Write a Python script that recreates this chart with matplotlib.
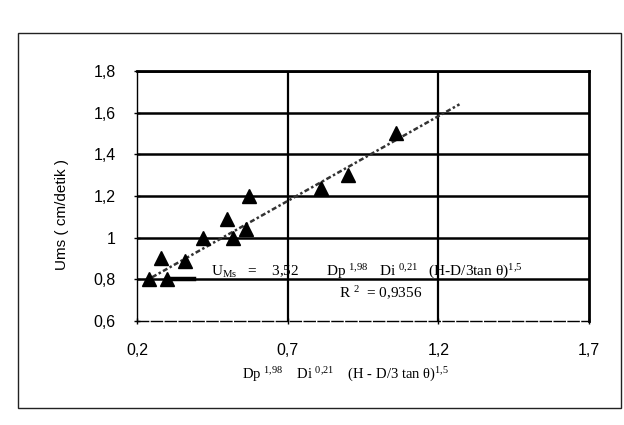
import numpy as np
import matplotlib.pyplot as plt
from matplotlib.patches import Rectangle

plt.rcParams['mathtext.fontset'] = 'custom'
plt.rcParams['mathtext.rm'] = 'Liberation Serif'
plt.rcParams['mathtext.it'] = 'Liberation Serif'

# data
x_val = [0.24, 0.30, 0.28, 0.36, 0.42, 0.50, 0.52, 0.56, 0.57, 0.81, 0.90, 1.06]
y_val = [0.80, 0.80, 0.90, 0.89, 1.00, 1.09, 1.00, 1.04, 1.20, 1.24, 1.30, 1.50]

trend_x = [0.25, 1.27]
trend_y = [0.81, 1.64]

key_x = [0.30, 0.39]
key_y = [0.80, 0.80]

x_ticks = [0.2, 0.7, 1.2, 1.7]
x_labels = ['0,2', '0,7', '1,2', '1,7']
y_ticks = [0.6, 0.8, 1.0, 1.2, 1.4, 1.6, 1.8]
y_labels = ['0,6', '0,8', '1', '1,2', '1,4', '1,6', '1,8']

fig = plt.figure(figsize=(6.24, 4.25), dpi=100)
fig.patches.append(Rectangle((0.029, 0.04), 0.966, 0.882, transform=fig.transFigure,
                             fill=False, edgecolor='#222222', linewidth=1.0))

ax = fig.add_axes([0.2196, 0.2447, 0.7244, 0.5883])
ax.set_xlim(0.2, 1.7)
ax.set_ylim(0.6, 1.8)

for yv in y_ticks[1:]:
    ax.axhline(yv, color='black', linewidth=1.8, zorder=1)
for xv in x_ticks[1:3]:
    ax.axvline(xv, color='black', linewidth=1.6, zorder=1)

ax.plot(trend_x, trend_y, color='#333333', linewidth=1.8, linestyle=(0, (2, 1, 1, 1)), zorder=2)
ax.plot(key_x, key_y, color='black', linewidth=3.2, zorder=2)
ax.plot(x_val, y_val, linestyle='none', marker='^', markersize=10.5,
        color='black', zorder=3)

ax.spines['top'].set_linewidth(2)
ax.spines['right'].set_linewidth(2)
ax.spines['left'].set_linewidth(1)
ax.spines['bottom'].set_linewidth(1)
ax.spines['bottom'].set_linestyle((0, (8, 2)))

ax.set_xticks(x_ticks)
ax.set_xticklabels(x_labels)
ax.set_yticks(y_ticks)
ax.set_yticklabels(y_labels)
ax.tick_params(direction='inout', length=5, width=1, labelsize=11.5, pad=13)
for lbl in ax.get_xticklabels() + ax.get_yticklabels():
    lbl.set_fontfamily('Liberation Sans')

ax.set_ylabel('Ums ( cm/detik )', fontsize=11, fontfamily='Liberation Sans')
ax.yaxis.set_label_coords(-0.15, 0.424)

ax.text(0.445, 0.835, r'U$_{\mathrm{Ms}}$   =    3,52', fontsize=11,
        fontfamily='Liberation Serif', va='center')
ax.text(0.828, 0.835, r'Dp $^{1{,}98}$   Di $^{0{,}21}$   (H-D/3tan θ)$^{1{,}5}$', fontsize=11,
        fontfamily='Liberation Serif', va='center')
ax.text(1.01, 0.732, r'R $^{2}$  = 0,9356', fontsize=11,
        fontfamily='Liberation Serif', va='center', ha='center')

fig.text(0.553, 0.118, r'Dp $^{1{,}98}$    Di $^{0{,}21}$    (H - D/3 tan θ)$^{1{,}5}$', fontsize=10.5,
         fontfamily='Liberation Serif', ha='center', va='center')

fig.savefig('out.png', dpi=100)
